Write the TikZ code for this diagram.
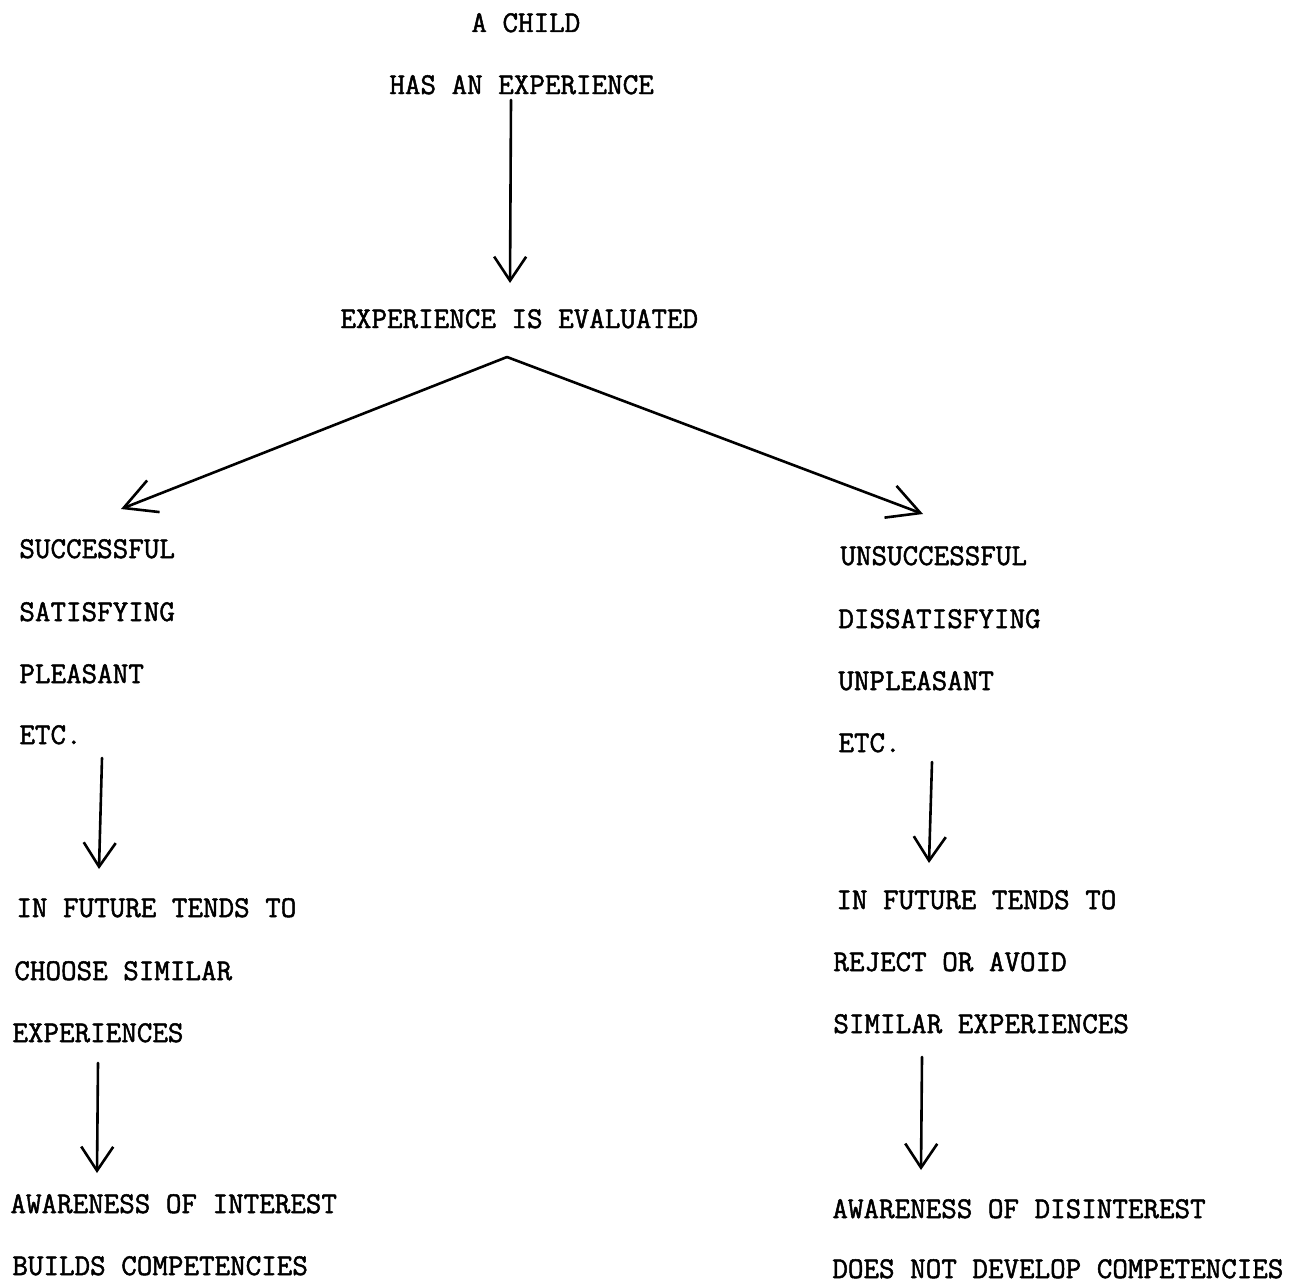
\documentclass[tikz,border=0pt]{standalone}
\usepackage{fontspec}
\usepackage{tikz}
\usetikzlibrary{arrows.meta}
\newfontfamily\typewr{Latin Modern Mono}[FakeBold=1.6]

\begin{document}
\begin{tikzpicture}[x=0.5pt,y=-0.5pt,
  txt/.style={anchor=base west, inner sep=0pt, font=\typewr\fontsize{15.1pt}{15.1pt}\selectfont},
  arr/.style={line width=1.3pt, line cap=round, -{Straight Barb[length=12pt,width=16pt,line width=1.3pt]}},
  darr/.style={arr, -{Straight Barb[length=16pt,width=17pt,line width=1.3pt]}}]
 \useasboundingbox (0,0) rectangle (1309,1285);
 % top
 \node[txt] (child) at (471,32) {A CHILD};
 \node[txt] (has) at (389,94) {HAS AN EXPERIENCE};
 \node[txt] (evalq) at (340,328) {EXPERIENCE IS EVALUATED};
 % left branch
 \node[txt] (succ) at (19,558) {SUCCESSFUL};
 \node[txt] (satis) at (19,621) {SATISFYING};
 \node[txt] (pleas) at (19,683) {PLEASANT};
 \node[txt] (etcL) at (19,744) {ETC.};
 \node[txt] (futL) at (16,917) {IN FUTURE TENDS TO};
 \node[txt] (choose) at (14,980) {CHOOSE SIMILAR};
 \node[txt] (expL) at (12,1042) {EXPERIENCES};
 \node[txt] (awL) at (10,1213) {AWARENESS OF INTEREST};
 \node[txt] (builds) at (12,1275) {BUILDS COMPETENCIES};
 % right branch
 \node[txt] (unsucc) at (840,565) {UNSUCCESSFUL};
 \node[txt] (dissat) at (838,628) {DISSATISFYING};
 \node[txt] (unpleas) at (838,690) {UNPLEASANT};
 \node[txt] (etcR) at (838,752) {ETC.};
 \node[txt] (futR) at (836,909) {IN FUTURE TENDS TO};
 \node[txt] (reject) at (833,971) {REJECT OR AVOID};
 \node[txt] (expR) at (833,1033) {SIMILAR EXPERIENCES};
 \node[txt] (awR) at (832,1218) {AWARENESS OF DISINTEREST};
 \node[txt] (notdev) at (832,1278) {DOES NOT DEVELOP COMPETENCIES};
 % arrows
 \draw[arr] ([shift={(122,6)}]has.base west) -- ([shift={(170,-45)}]evalq.base west);
 \draw[darr] ([shift={(167,29)}]evalq.base west) -- ([shift={(102,-49)}]succ.base west);
 \draw[darr] ([shift={(167,29)}]evalq.base west) -- ([shift={(83,-51)}]unsucc.base west);
 \draw[arr] ([shift={(83,14)}]etcL.base west) -- ([shift={(83,-48)}]futL.base west);
 \draw[arr] ([shift={(86,21)}]expL.base west) -- ([shift={(87,-40)}]awL.base west);
 \draw[arr] ([shift={(94,10)}]etcR.base west) -- ([shift={(93,-46)}]futR.base west);
 \draw[arr] ([shift={(89,24)}]expR.base west) -- ([shift={(89,-48)}]awR.base west);
\end{tikzpicture}
\end{document}
